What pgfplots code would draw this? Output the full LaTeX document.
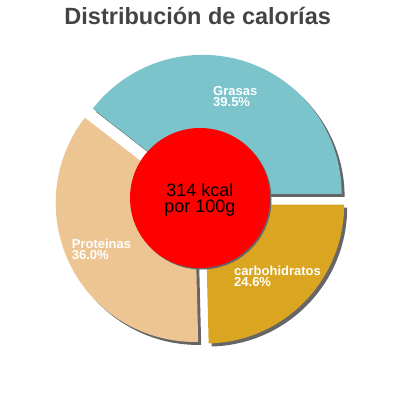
\documentclass[border=0pt]{standalone}
\usepackage{pgfplots}
\pgfplotsset{compat=1.18}
\usepackage{pgfplotstable}
\usepackage{fontspec}
\setmainfont{Liberation Sans}

\definecolor{grasas}{RGB}{123,196,204}
\definecolor{carbos}{RGB}{218,165,32}
\definecolor{prote}{RGB}{237,197,147}
\definecolor{sombra}{RGB}{102,102,102}
\definecolor{titulo}{RGB}{68,68,68}

% percent of calories
\pgfplotstableread{
label value
Grasas 39.5
carbohidratos 24.6
Proteinas 36.0
}\calorias

\pgfplotstablegetelem{0}{value}\of\calorias \let\vg\pgfplotsretval
\pgfplotstablegetelem{1}{value}\of\calorias \let\vc\pgfplotsretval
\pgfplotstablegetelem{2}{value}\of\calorias \let\vp\pgfplotsretval

% pie centre, radius, explode distance (axis units = bp)
\def\pcx{200.5}
\def\pcy{200}
\def\pr{139}
\def\pex{6.5}

% #1 start angle, #2 end angle, #3 colour, #4 shadow shift
\newcommand\pieslice[4]{%
  \pgfmathsetmacro\mid{(#1+#2)/2}%
  \pgfmathsetmacro\ax{\pcx+\pex*cos(\mid)+#4}%
  \pgfmathsetmacro\ay{\pcy+\pex*sin(\mid)-#4}%
  \pgfmathsetmacro\sx{\ax+\pr*cos(#1)}%
  \pgfmathsetmacro\sy{\ay+\pr*sin(#1)}%
  \edef\tmp{\noexpand\fill[#3] (axis cs:\ax,\ay) -- (axis cs:\sx,\sy)
    arc[start angle=#1, end angle=#2, radius=\pr bp] -- cycle;}%
  \tmp
}

\begin{document}
\begin{tikzpicture}
\pgfmathsetmacro\ag{3.6*\vg}
\pgfmathsetmacro\ac{-3.6*\vc}
\pgfmathsetmacro\ap{360-3.6*\vc}
\begin{axis}[
  scale only axis,
  width=400bp, height=400bp,
  xmin=0, xmax=400, ymin=0, ymax=400,
  hide axis, clip=false
]
\path (axis cs:0,0) rectangle (axis cs:400,400);

% shadows
\pieslice{0}{\ag}{sombra}{3}
\pieslice{\ac}{0}{sombra}{3}
\pieslice{\ag}{\ap}{sombra}{3}
% slices
\pieslice{0}{\ag}{grasas}{0}
\pieslice{\ac}{0}{carbos}{0}
\pieslice{\ag}{\ap}{prote}{0}

% centre disc
\fill[sombra] (axis cs:201.5,200.5) circle[radius=70bp];
\fill[red] (axis cs:200,202) circle[radius=70bp];

\node[anchor=base, inner sep=0, font=\fontsize{18bp}{20bp}\selectfont] at (axis cs:200,204) {314 kcal};
\node[anchor=base, inner sep=0, font=\fontsize{18bp}{20bp}\selectfont] at (axis cs:200,187.3) {por 100g};

\tikzset{lbl/.style={anchor=base west, inner sep=0, text=white,
  font=\fontsize{13bp}{13bp}\selectfont\bfseries}}
\node[lbl] at (axis cs:213,305) {Grasas};
\node[lbl] at (axis cs:213,294) {39.5\%};
\node[lbl] at (axis cs:71.7,151.7) {Proteinas};
\node[lbl] at (axis cs:71.7,140.7) {36.0\%};
\node[lbl] at (axis cs:234,125) {carbohidratos};
\node[lbl] at (axis cs:234,113.3) {24.6\%};

\node[anchor=base, inner sep=0, text=titulo,
  font=\fontsize{23.5bp}{28bp}\selectfont\bfseries] at (axis cs:197.7,376) {Distribución de calorías};
\end{axis}
\end{tikzpicture}
\end{document}
